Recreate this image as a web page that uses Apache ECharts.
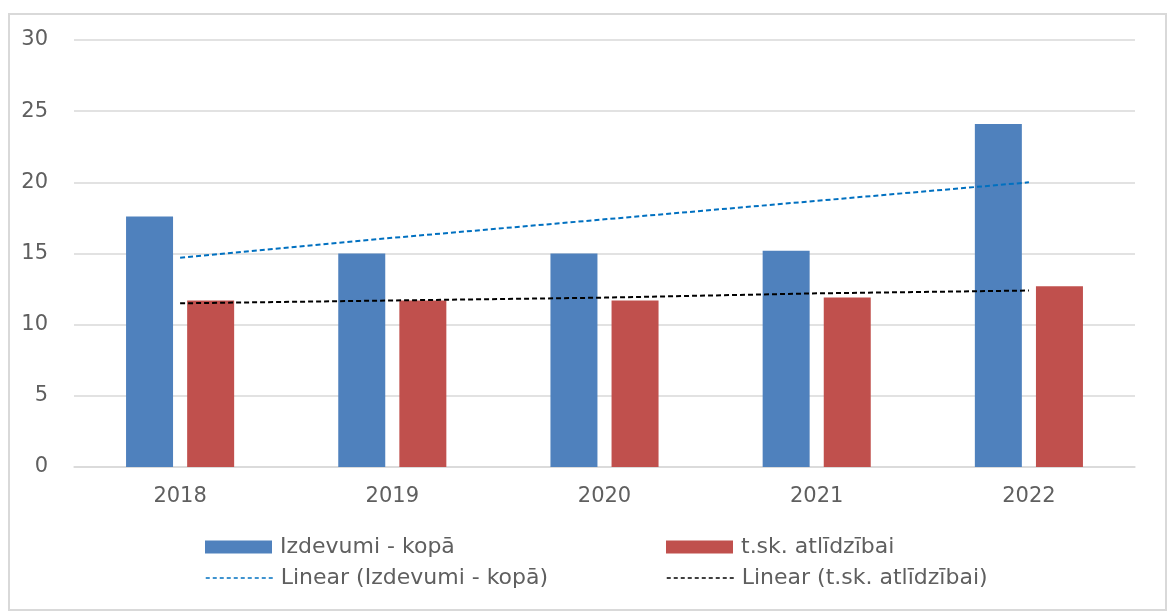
<!DOCTYPE html>
<html>
<head>
<meta charset="utf-8">
<script src="https://cdn.jsdelivr.net/npm/echarts@6/dist/echarts.min.js"></script>
<style>
  html, body { margin: 0; padding: 0; background: #fff; }
  #frame { position: absolute; left: 8px; top: 13px; width: 1159px; height: 598px; border: 2px solid #d9d9d9; box-sizing: border-box; }
  #chart { position: absolute; left: 0; top: 0; width: 1169px; height: 613px; }
</style>
</head>
<body>
<div id="frame"></div>
<div id="chart"></div>
<script>
var years = ['2018', '2019', '2020', '2021', '2022'];
var izdevumiKopa = [17.6, 15.0, 15.0, 15.2, 24.1];
var atlidzibai = [11.7, 11.7, 11.7, 11.9, 12.7];
// trend lines
var trendKopa = [14.7, 16.1, 17.4, 18.7, 20.0];
var trendAtlidzibai = [11.5, 11.7, 11.9, 12.2, 12.4];
var yTicks = [0, 5, 10, 15, 20, 25, 30];

var names = ['Izdevumi - kopā', 't.sk. atlīdzībai', 'Linear (Izdevumi - kopā)', 'Linear (t.sk. atlīdzībai)'];
var fontName = '"DejaVu Sans", sans-serif';
var textColor = '#5f5f5f';

function oneLegend(name, left, top, isLine) {
  var lg = {
    data: [name],
    left: left,
    top: top,
    itemWidth: 67,
    itemHeight: 13,
    itemGap: 4,
    padding: 0,
    textStyle: { color: textColor, fontSize: 22, fontFamily: fontName, padding: [0, 0, 0, 3] },
    selectedMode: false
  };
  if (isLine) {
    lg.itemStyle = { opacity: 0 };
    lg.lineStyle = { width: 1.5, type: [4, 3] };
  } else {
    lg.icon = 'rect';
  }
  return lg;
}

var chart = echarts.init(document.getElementById('chart'));
var chartSettings = {
  animation: false,
  grid: { left: 74, right: 34, top: 40, bottom: 146, containLabel: false },
  legend: [
    oneLegend(names[0], 205, 536, false),
    oneLegend(names[1], 666, 536, false),
    oneLegend(names[2], 205, 567, true),
    oneLegend(names[3], 666, 567, true)
  ],
  xAxis: {
    type: 'category',
    data: years,
    axisLine: { lineStyle: { color: '#d9d9d9', width: 1.5 } },
    axisTick: { show: false },
    axisLabel: { color: textColor, fontSize: 21, fontFamily: fontName, margin: 19 }
  },
  yAxis: {
    type: 'value',
    min: yTicks[0],
    max: yTicks[yTicks.length - 1],
    interval: 5,
    axisLine: { show: false },
    axisTick: { show: false },
    splitLine: { lineStyle: { color: '#d9d9d9', width: 1.5 } },
    axisLabel: { color: textColor, fontSize: 21, fontFamily: fontName, margin: 26 }
  },
  series: [
    {
      name: names[0],
      type: 'bar',
      data: izdevumiKopa,
      barWidth: 47,
      barGap: '30%',
      itemStyle: { color: '#4f81bd' }
    },
    {
      name: names[1],
      type: 'bar',
      data: atlidzibai,
      barWidth: 47,
      barGap: '30%',
      itemStyle: { color: '#c0504d' }
    },
    {
      name: names[2],
      type: 'line',
      data: trendKopa,
      symbol: 'none',
      lineStyle: { color: '#0070c0', width: 2, type: [5, 3] },
      itemStyle: { color: '#0070c0' },
      z: 5
    },
    {
      name: names[3],
      type: 'line',
      data: trendAtlidzibai,
      symbol: 'none',
      lineStyle: { color: '#000000', width: 2, type: [5, 3] },
      itemStyle: { color: '#000000' },
      z: 5
    }
  ]
};
chart.setOption(chartSettings);
</script>
</body>
</html>
